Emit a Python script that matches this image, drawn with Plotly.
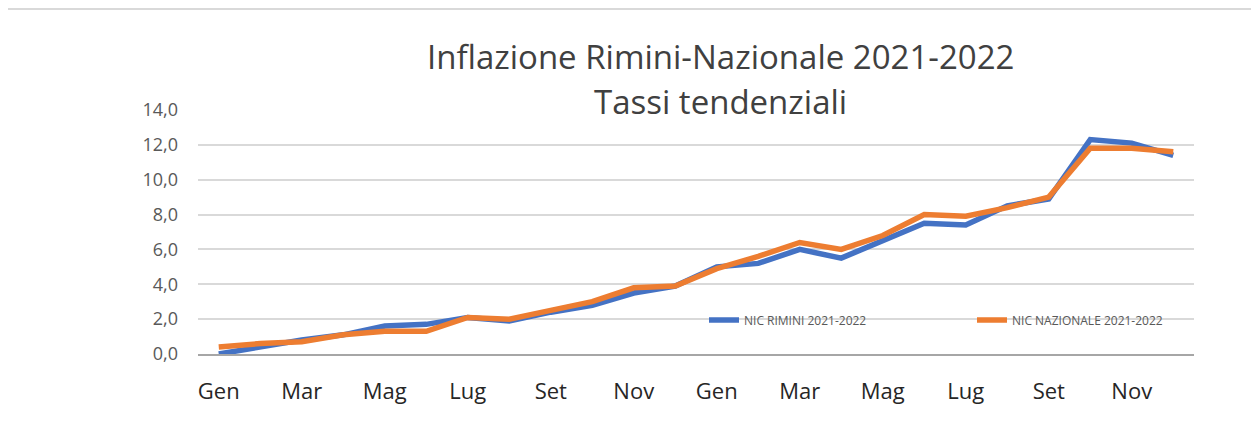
import plotly.graph_objects as go

months = ["Gen", "Feb", "Mar", "Apr", "Mag", "Giu", "Lug", "Ago", "Set", "Ott", "Nov", "Dic"]
categories = [f"{m} {y}" for y in (2021, 2022) for m in months]
tick_labels = [m for y in (2021, 2022) for m in months]

rimini = [0.0, 0.4, 0.8, 1.1, 1.6, 1.7, 2.1, 1.9, 2.4, 2.8, 3.5, 3.9,
          5.0, 5.2, 6.0, 5.5, 6.5, 7.5, 7.4, 8.5, 8.9, 12.3, 12.1, 11.4]
nazionale = [0.4, 0.6, 0.7, 1.1, 1.3, 1.3, 2.1, 2.0, 2.5, 3.0, 3.8, 3.9,
             4.9, 5.6, 6.4, 6.0, 6.8, 8.0, 7.9, 8.4, 9.0, 11.8, 11.8, 11.6]

series_names = ["NIC RIMINI 2021-2022", "NIC NAZIONALE 2021-2022"]
title_lines = ["Inflazione Rimini-Nazionale 2021-2022", "Tassi tendenziali"]

# page offset (body margin) compensation
O = 8
W, H = 1259 - O, 427 - O
L, R, T, B = 198 - O, 1194 - O, 110 - O, 354 - O


def px(x):
    return (x - O - L) / (R - L)


def py(y):
    return (B - (y - O)) / (B - T)


fig = go.Figure()
fig.add_trace(go.Scatter(x=categories, y=rimini, mode="lines", name=series_names[0],
                         line=dict(color="#4472C4", width=5.5), legend="legend"))
fig.add_trace(go.Scatter(x=categories, y=nazionale, mode="lines", name=series_names[1],
                         line=dict(color="#ED7D31", width=5.5), legend="legend2"))

legend_common = dict(orientation="h", xanchor="left", yanchor="middle",
                     bgcolor="rgba(0,0,0,0)", font=dict(size=12, color="#595959"))

fig.update_layout(
    width=W, height=H,
    margin=dict(l=L, r=W - R, t=T, b=H - B),
    paper_bgcolor="white", plot_bgcolor="white",
    separators=",.",
    font=dict(family="Open Sans", color="#595959"),
    showlegend=True,
    legend=dict(x=px(704), y=py(320), **legend_common),
    legend2=dict(x=px(972), y=py(320), **legend_common),
    xaxis=dict(type="category", range=[-0.5, 23.5],
               tickmode="array", tickvals=categories[::2], ticktext=tick_labels[::2],
               showgrid=False, showline=True, linecolor="#A6A6A6", linewidth=1.5,
               ticks="", tickfont=dict(size=22, color="#262626"),
               ticklabelstandoff=17, fixedrange=True),
    yaxis=dict(range=[0, 14], dtick=2, tickformat=".1f",
               showgrid=True, gridcolor="#D9D9D9", gridwidth=1.5,
               zeroline=False, showline=False,
               tickfont=dict(size=18, color="#595959"),
               ticklabelstandoff=19, fixedrange=True),
    annotations=[
        dict(text=title_lines[0], xref="paper", yref="paper", x=px(720), y=py(56),
             xanchor="center", yanchor="middle", showarrow=False,
             font=dict(size=33, color="#404040", family="Open Sans")),
        dict(text=title_lines[1], xref="paper", yref="paper", x=px(720), y=py(102),
             xanchor="center", yanchor="middle", showarrow=False,
             font=dict(size=33, color="#404040", family="Open Sans")),
    ],
    shapes=[
        dict(type="line", xref="paper", yref="paper", x0=px(3), x1=px(1300), y0=py(9), y1=py(9),
             line=dict(color="#D9D9D9", width=2)),
    ],
)

fig.write_html("out.html")
